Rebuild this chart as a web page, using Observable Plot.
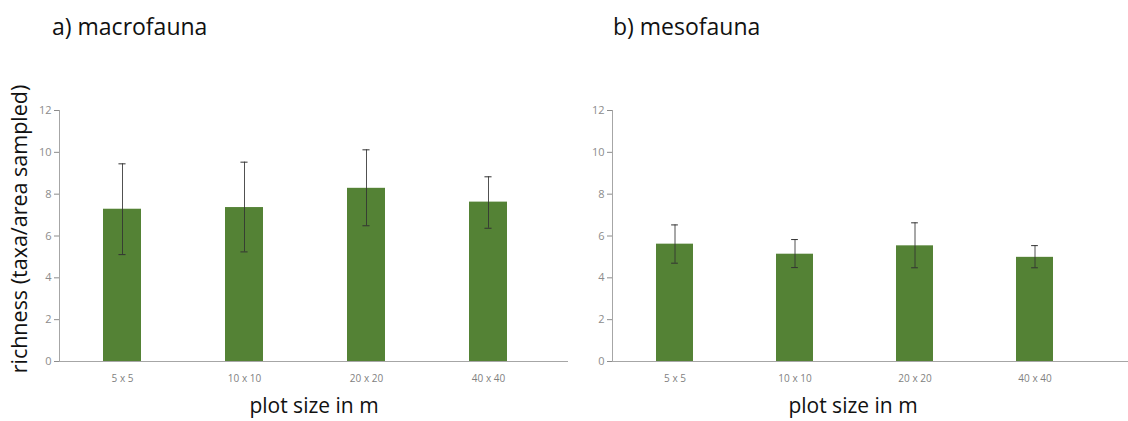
<!DOCTYPE html>
<html>
<head>
<meta charset="utf-8">
<script src="https://cdn.jsdelivr.net/npm/d3@7"></script>
<script src="https://cdn.jsdelivr.net/npm/@observablehq/plot@0.6"></script>
<style>
  html, body { margin: 0; padding: 0; background: #fff; }
  #wrap { position: relative; width: 1128px; height: 421px; overflow: hidden; font-family: "Open Sans", sans-serif; }
  .t { position: absolute; color: #111; white-space: nowrap; line-height: 1; }
</style>
</head>
<body>
<div id="wrap">
  <div class="t" style="left:52px; top:15px; font-size:23px;">a) macrofauna</div>
  <div class="t" style="left:613px; top:15px; font-size:23px;">b) mesofauna</div>
  <div class="t" style="left:19px; top:229px; font-size:21.5px; transform: translate(-50%,-50%) rotate(-90deg);">richness (taxa/area sampled)</div>
  <div class="t" style="left:314px; top:395px; font-size:21px; transform: translateX(-50%);">plot size in m</div>
  <div class="t" style="left:853px; top:395px; font-size:21px; transform: translateX(-50%);">plot size in m</div>
</div>
<script>
const categories = ["5 x 5", "10 x 10", "20 x 20", "40 x 40"];
const yTicks = [0, 2, 4, 6, 8, 10, 12];

const macroMean = [7.28, 7.36, 8.28, 7.62];
const macroLow  = [5.11, 5.24, 6.49, 6.37];
const macroHigh = [9.45, 9.53, 10.12, 8.83];

const mesoMean = [5.61, 5.13, 5.53, 4.98];
const mesoLow  = [4.70, 4.49, 4.48, 4.48];
const mesoHigh = [6.53, 5.83, 6.63, 5.54];

function makeData(mean, low, high) {
  return categories.map((c, i) => ({cat: c, mean: mean[i], low: low[i], high: high[i]}));
}

function panel(data, opts) {
  const pInner = 0.69;
  const step = (opts.range[1] - opts.range[0]) / categories.length;
  const bandwidth = step * (1 - pInner);
  const capInset = (bandwidth - 7) / 2;
  return Plot.plot({
    width: opts.width,
    height: 421,
    marginLeft: opts.marginLeft,
    marginRight: 0,
    marginTop: 110,
    marginBottom: 60,
    style: {fontFamily: "'Open Sans', sans-serif", background: "transparent"},
    x: {domain: categories, range: opts.range, paddingInner: pInner, paddingOuter: pInner / 2, label: null},
    y: {domain: [0, 12], label: null},
    marks: [
      Plot.barY(data, {x: "cat", y: "mean", fill: "#548235"}),
      Plot.ruleY([0], {stroke: "#a6a6a6", strokeWidth: 1.2}),
      Plot.ruleX(data, {x: "cat", y1: "low", y2: "high", stroke: "#333333", strokeWidth: 1, strokeOpacity: 0.85}),
      Plot.tickY(data, {x: "cat", y: "low", stroke: "#333333", strokeWidth: 1, insetLeft: capInset, insetRight: capInset}),
      Plot.tickY(data, {x: "cat", y: "high", stroke: "#333333", strokeWidth: 1, insetLeft: capInset, insetRight: capInset}),
      Plot.frame({anchor: "left", stroke: "#a6a6a6"}),
      Plot.axisY({ticks: yTicks, tickSize: 5, tickPadding: 3, fontSize: 11, color: "#8c8c8c", tickFormat: d => String(d)}),
      Plot.axisX({tickSize: 0, tickPadding: 13, fontSize: 10, color: "#7f7f7f"})
    ]
  });
}

const wrap = document.getElementById("wrap");
const left = panel(makeData(macroMean, macroLow, macroHigh), {width: 568, marginLeft: 59, range: [60, 549]});
left.style.position = "absolute";
left.style.left = "0px";
left.style.top = "0px";
const right = panel(makeData(mesoMean, mesoLow, mesoHigh), {width: 560, marginLeft: 44, range: [46, 527]});
right.style.position = "absolute";
right.style.left = "568px";
right.style.top = "0px";
wrap.appendChild(left);
wrap.appendChild(right);
</script>
</body>
</html>
